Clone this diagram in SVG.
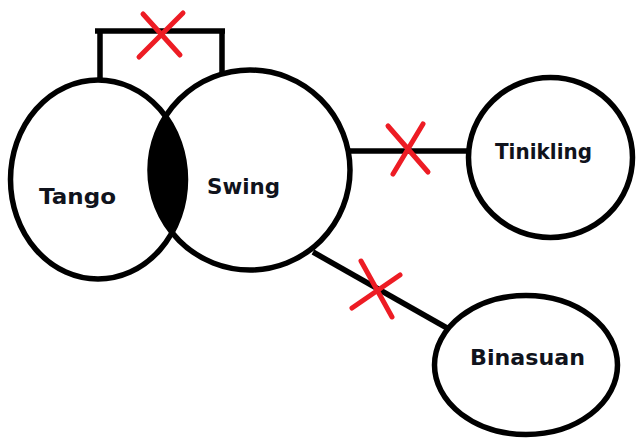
<svg xmlns="http://www.w3.org/2000/svg" width="637" height="440" viewBox="0 0 637 440">
  <style>
    .node { fill: none; stroke: #000; stroke-width: 5.5; }
    .link { fill: none; stroke: #000; stroke-width: 5.5; }
    .cross { fill: none; stroke: #ed1c24; stroke-width: 5; stroke-linecap: round; }
    .label { font-family: "DejaVu Sans", Verdana, sans-serif; font-weight: bold; font-size: 22px; fill: #10131c; }
  </style>
  <defs>
    <clipPath id="swing-clip">
      <circle cx="250" cy="170" r="100"/>
    </clipPath>
  </defs>
  <rect width="637" height="440" fill="#fff"/>

  <g id="connectors">
    <!-- bracket between Tango and Swing -->
    <path class="link" d="M95,31 H225 M100,31 V81 M222,31 V74"/>
    <!-- Swing to Tinikling -->
    <path class="link" d="M349,151 H470"/>
    <!-- Swing to Binasuan -->
    <path class="link" d="M313,252 L447,328"/>
    <!-- crosses on each link -->
    <path class="cross" d="M143,14 L180,55 M183,13 L139,57"/>
    <path class="cross" d="M388,126 L428,172 M423,124 L393,174"/>
    <path class="cross" d="M361,261 L392,317 M400,275 L352,308"/>
  </g>

  <g id="overlap">
    <ellipse cx="98" cy="179.5" rx="87.5" ry="99.5" fill="#000" clip-path="url(#swing-clip)"/>
  </g>

  <g id="tango">
    <ellipse class="node" cx="98" cy="179.5" rx="87.5" ry="99.5"/>
    <text class="label" x="39" y="204" textLength="77" lengthAdjust="spacingAndGlyphs">Tango</text>
  </g>

  <g id="swing">
    <circle class="node" cx="250" cy="170" r="100"/>
    <text class="label" x="207" y="194" textLength="73" lengthAdjust="spacingAndGlyphs">Swing</text>
  </g>

  <g id="tinikling">
    <ellipse class="node" cx="550.5" cy="157.5" rx="82" ry="80"/>
    <text class="label" x="495" y="159" textLength="97" lengthAdjust="spacingAndGlyphs">Tinikling</text>
  </g>

  <g id="binasuan">
    <ellipse class="node" cx="526" cy="365" rx="91.5" ry="69.5"/>
    <text class="label" x="470" y="365" textLength="115" lengthAdjust="spacingAndGlyphs">Binasuan</text>
  </g>
</svg>
